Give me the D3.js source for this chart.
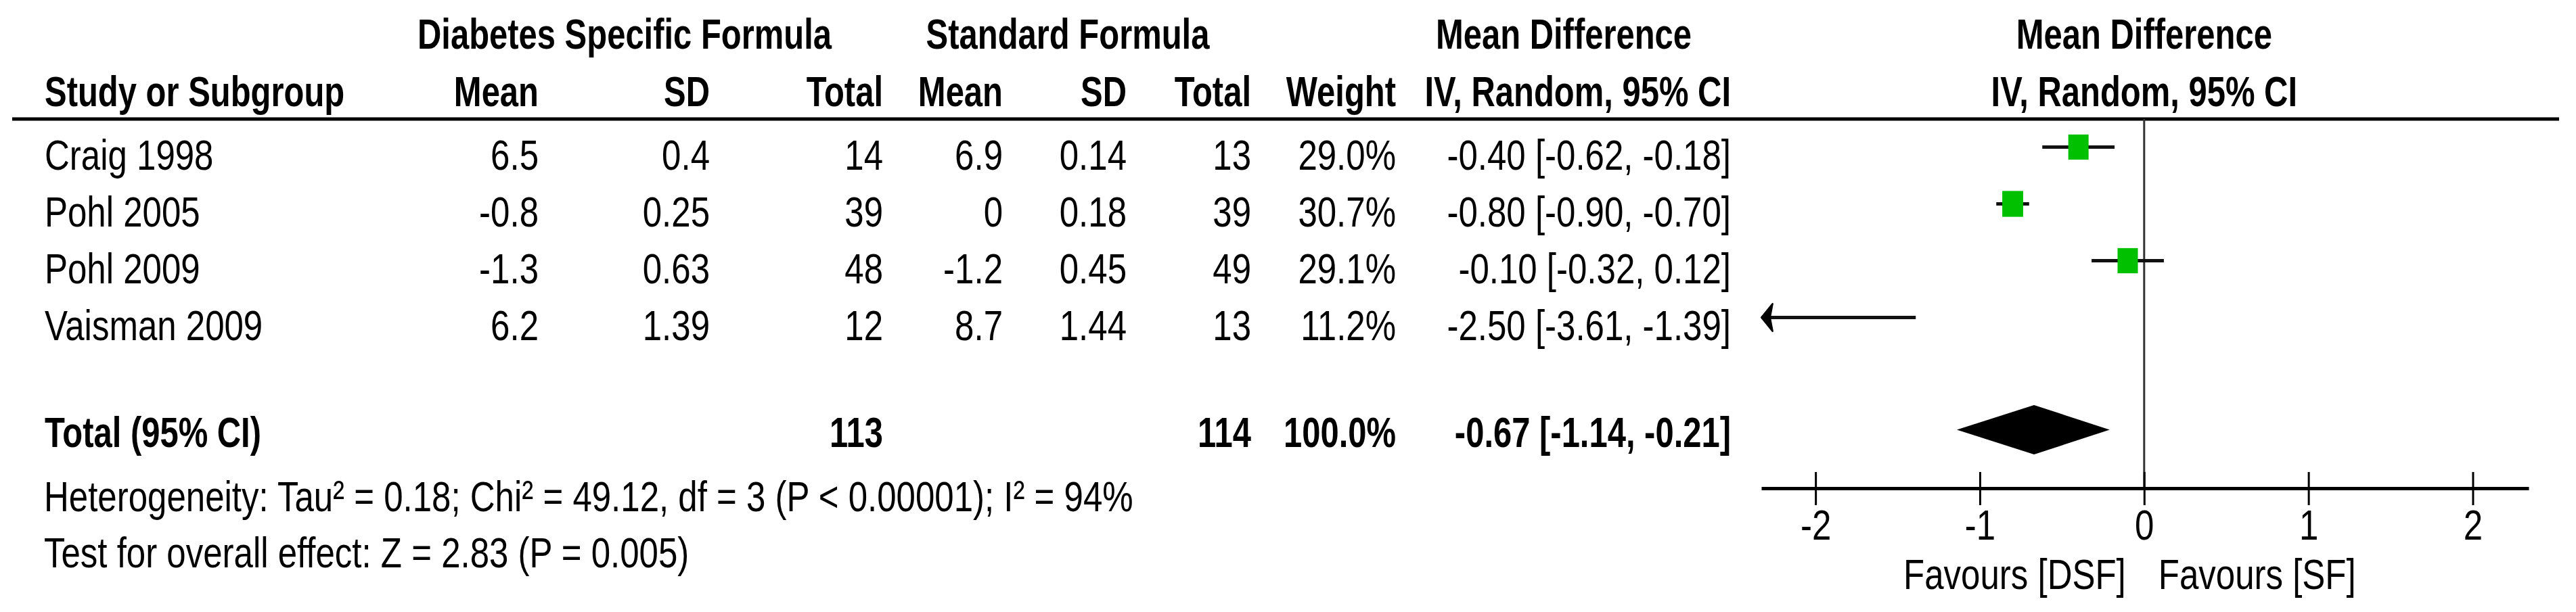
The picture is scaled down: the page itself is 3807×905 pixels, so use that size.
<!DOCTYPE html>
<html>
<head>
<meta charset="utf-8">
<script src="https://cdn.jsdelivr.net/npm/d3@7"></script>
<style>
  html, body { margin: 0; padding: 0; background: #fff; }
  svg { display: block; }
  text { font-family: "Liberation Sans", Arial, sans-serif; fill: #000; }
</style>
</head>
<body>
<svg id="chart" width="3807" height="905"></svg>
<script>
// ---------------- DATA ----------------
const studies   = ["Craig 1998", "Pohl 2005", "Pohl 2009", "Vaisman 2009"];
const dsfMean   = [6.5, -0.8, -1.3, 6.2];
const dsfSD     = [0.4, 0.25, 0.63, 1.39];
const dsfTotal  = [14, 39, 48, 12];
const sfMean    = [6.9, 0, -1.2, 8.7];
const sfSD      = [0.14, 0.18, 0.45, 1.44];
const sfTotal   = [13, 39, 49, 13];
const weights   = [29.0, 30.7, 29.1, 11.2];
const meanDiff  = [-0.40, -0.80, -0.10, -2.50];
const ciLower   = [-0.62, -0.90, -0.32, -3.61];
const ciUpper   = [-0.18, -0.70, 0.12, -1.39];

const totalLabel  = "Total (95% CI)";
const totalCounts = [113, 114];
const totalWeight = [100.0];
const totalEffect = [-0.67, -1.14, -0.21];   // estimate, lower, upper

const axisTicks   = [-2, -1, 0, 1, 2];
const axisDomain  = [-2.33, 2.34];
const favourLabels = ["Favours [DSF]", "Favours [SF]"];

const heterogeneityText = "Heterogeneity: Tau\u00B2 = 0.18; Chi\u00B2 = 49.12, df = 3 (P < 0.00001); I\u00B2 = 94%";
const overallText = "Test for overall effect: Z = 2.83 (P = 0.005)";

// ---------------- LAYOUT ----------------
const FS = 51, SY = 1.25, SXB = 0.96;
const svg = d3.select("#chart");
svg.append("rect").attr("width", 3807).attr("height", 905).attr("fill", "#fff");

function txt(x, y, s, opt = {}) {
  const bold = !!opt.bold;
  const sx = bold ? SXB : 1;
  return svg.append("text")
    .attr("transform", `translate(${x},${y}) scale(${sx},${SY})`)
    .attr("text-anchor", opt.anchor || "start")
    .attr("font-size", FS)
    .attr("font-weight", bold ? "bold" : "normal")
    .text(s);
}

const fmtNum = v => String(v);
const fmt2 = v => v.toFixed(2);
const fmtCI = (m, l, u) => `${fmt2(m)} [${fmt2(l)}, ${fmt2(u)}]`;

// column right edges
const col = { study: 66, dMean: 796, dSD: 1049, dTot: 1305, sMean: 1482, sSD: 1665, sTot: 1849, wt: 2063, ci: 2558 };

// row positions
const rowY = d3.scalePoint().domain(studies).range([217.5, 469.5]);
const textOffset = 33.5;

// headers
txt(923, 72, "Diabetes Specific Formula", { bold: true, anchor: "middle" });
txt(1578, 72, "Standard Formula", { bold: true, anchor: "middle" });
txt(2311, 72, "Mean Difference", { bold: true, anchor: "middle" });
txt(col.study, 157, "Study or Subgroup", { bold: true });
txt(col.dMean, 157, "Mean", { bold: true, anchor: "end" });
txt(col.dSD, 157, "SD", { bold: true, anchor: "end" });
txt(col.dTot, 157, "Total", { bold: true, anchor: "end" });
txt(col.sMean, 157, "Mean", { bold: true, anchor: "end" });
txt(col.sSD, 157, "SD", { bold: true, anchor: "end" });
txt(col.sTot, 157, "Total", { bold: true, anchor: "end" });
txt(col.wt, 157, "Weight", { bold: true, anchor: "end" });
txt(col.ci, 157, "IV, Random, 95% CI", { bold: true, anchor: "end" });

// x scale for forest plot
const x = d3.scaleLinear().domain(axisDomain).range([2603, 3737]);
txt(x(0), 72, "Mean Difference", { bold: true, anchor: "middle" });
txt(x(0), 157, "IV, Random, 95% CI", { bold: true, anchor: "middle" });

// header rule
svg.append("line").attr("x1", 18).attr("x2", 3782).attr("y1", 176).attr("y2", 176)
  .attr("stroke", "#000").attr("stroke-width", 5);

// study rows
studies.forEach((s, i) => {
  const yb = rowY(s) + textOffset;
  txt(col.study, yb, s);
  txt(col.dMean, yb, fmtNum(dsfMean[i]), { anchor: "end" });
  txt(col.dSD, yb, fmtNum(dsfSD[i]), { anchor: "end" });
  txt(col.dTot, yb, fmtNum(dsfTotal[i]), { anchor: "end" });
  txt(col.sMean, yb, fmtNum(sfMean[i]), { anchor: "end" });
  txt(col.sSD, yb, fmtNum(sfSD[i]), { anchor: "end" });
  txt(col.sTot, yb, fmtNum(sfTotal[i]), { anchor: "end" });
  txt(col.wt, yb, weights[i].toFixed(1) + "%", { anchor: "end" });
  txt(col.ci, yb, fmtCI(meanDiff[i], ciLower[i], ciUpper[i]), { anchor: "end" });
});

// total row
const totalBase = 661;
txt(col.study, totalBase, totalLabel, { bold: true });
txt(col.dTot, totalBase, String(totalCounts[0]), { bold: true, anchor: "end" });
txt(col.sTot, totalBase, String(totalCounts[1]), { bold: true, anchor: "end" });
txt(col.wt, totalBase, totalWeight[0].toFixed(1) + "%", { bold: true, anchor: "end" });
txt(col.ci, totalBase, fmtCI(totalEffect[0], totalEffect[1], totalEffect[2]), { bold: true, anchor: "end" });

// footer notes
txt(65, 756, heterogeneityText);
txt(65, 839, overallText);

// zero line
const axisY = 722;
svg.append("line").attr("x1", x(0)).attr("x2", x(0)).attr("y1", 176).attr("y2", axisY)
  .attr("stroke", "#333").attr("stroke-width", 3);

// CI lines, boxes, arrows
const boxSize = d3.scaleSqrt().domain([0, 30]).range([0, 30.5]);
const [dMin, dMax] = axisDomain;
const plot = svg.append("g");
studies.forEach((s, i) => {
  const cy = rowY(s);
  const lo = Math.max(ciLower[i], dMin), hi = Math.min(ciUpper[i], dMax);
  plot.append("line").attr("x1", x(lo)).attr("x2", x(hi)).attr("y1", cy).attr("y2", cy)
    .attr("stroke", "#111").attr("stroke-width", 5);
  if (ciLower[i] < dMin) {
    const tx = x(dMin);
    plot.append("path")
      .attr("d", `M${tx},${cy} L${tx + 17},${cy - 21} L${tx + 13},${cy} L${tx + 17},${cy + 21} Z`)
      .attr("fill", "#000").attr("stroke", "#000").attr("stroke-width", 2);
  }
  if (ciUpper[i] > dMax) {
    const tx = x(dMax);
    plot.append("path")
      .attr("d", `M${tx},${cy} L${tx - 17},${cy - 21} L${tx - 13},${cy} L${tx - 17},${cy + 21} Z`)
      .attr("fill", "#000").attr("stroke", "#000").attr("stroke-width", 2);
  }
  if (meanDiff[i] >= dMin && meanDiff[i] <= dMax) {
    const w = boxSize(weights[i]), h = w * 1.24;
    plot.append("rect").attr("x", x(meanDiff[i]) - w / 2).attr("y", cy - h / 2)
      .attr("width", w).attr("height", h).attr("fill", "#00c000");
  }
});

// total diamond
const dCy = 635.5, dH = 36.5;
plot.append("path")
  .attr("d", `M${x(totalEffect[1])},${dCy} L${x(totalEffect[0])},${dCy - dH} L${x(totalEffect[2])},${dCy} L${x(totalEffect[0])},${dCy + dH} Z`)
  .attr("fill", "#000");

// axis
const axis = d3.axisBottom(x).tickValues(axisTicks).tickSizeInner(25).tickSizeOuter(0).tickFormat(d => String(d));
const ag = svg.append("g").attr("transform", `translate(0,${axisY})`).call(axis);
ag.select(".domain").attr("stroke", "#000").attr("stroke-width", 5);
ag.selectAll(".tick line").attr("y1", -24).attr("y2", 25).attr("stroke", "#000").attr("stroke-width", 3);
ag.selectAll(".tick text")
  .attr("y", null).attr("dy", null)
  .attr("transform", `translate(0,76) scale(1,${SY})`)
  .attr("font-size", FS)
  .attr("font-family", '"Liberation Sans", Arial, sans-serif')
  .attr("fill", "#000");

// favours labels
txt(x(0) - 27, 871, favourLabels[0], { anchor: "end" });
txt(x(0) + 21, 871, favourLabels[1]);
</script>
</body>
</html>
